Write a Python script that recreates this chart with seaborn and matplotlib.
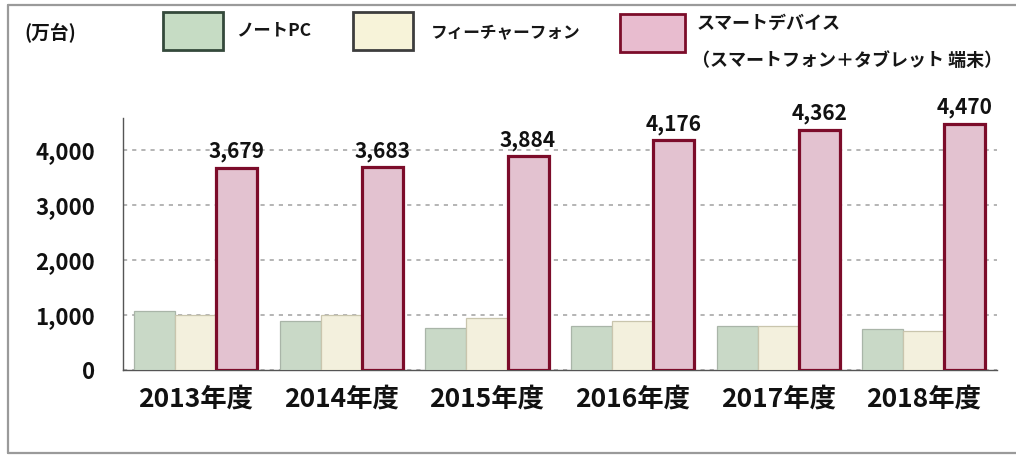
import matplotlib
matplotlib.use("Agg")
import matplotlib.pyplot as plt
from matplotlib.patches import Rectangle
from matplotlib.lines import Line2D
from matplotlib.ticker import FixedLocator, FuncFormatter
import pandas as pd
import seaborn as sns

# Shipments by fiscal year (unit: 10,000 units)
years = ["2013年度", "2014年度", "2015年度", "2016年度", "2017年度", "2018年度"]
series_names = ["ノートPC", "フィーチャーフォン", "スマートデバイス"]
notebook_pc = [1078, 891, 760, 800, 790, 748]
feature_phone = [1000, 1000, 940, 890, 790, 712]
smart_device = [3679, 3683, 3884, 4176, 4362, 4470]
y_ticks = [0, 1000, 2000, 3000, 4000]

fills = ["#c6dcc4", "#f7f3d9", "#e8bccf"]
bar_edges = ["#a9b5a8", "#c9c5ad", "#7c0c2a"]
legend_edges = ["#34493b", "#3d3d3d", "#7c0c2a"]

sns.set_style("white")
plt.rcParams["font.family"] = ["Noto Sans CJK JP", "DejaVu Sans"]

df = pd.DataFrame({
    "year": years * 3,
    "series": [series_names[0]] * 6 + [series_names[1]] * 6 + [series_names[2]] * 6,
    "value": notebook_pc + feature_phone + smart_device,
})

fig = plt.figure(figsize=(10.16, 4.59), dpi=100)
ax = fig.add_axes([0.121, 0.194, 0.860, 0.549])

sns.barplot(data=df, x="year", y="value", hue="series", hue_order=series_names,
            palette=fills, width=0.845, gap=0, legend=False, ax=ax, zorder=3)

for cont, ec, lw in zip(ax.containers, bar_edges, [0.9, 0.9, 2.3]):
    for patch in cont:
        patch.set_edgecolor(ec)
        patch.set_linewidth(lw)

# value labels above smart-device bars
for patch, val in zip(ax.containers[2], smart_device):
    ax.annotate(f"{val:,}", (patch.get_x() + patch.get_width() / 2, val),
                xytext=(0, 4), textcoords="offset points", ha="center", va="bottom",
                fontsize=15, fontweight="bold", color="#111111")

ax.set_ylim(0, 4580)
ax.set_xlim(-0.5, 5.5)
ax.yaxis.set_major_locator(FixedLocator(y_ticks))
ax.yaxis.set_major_formatter(FuncFormatter(lambda v, p: f"{int(v):,}"))
ax.grid(axis="y", color="#a8a8a8", linestyle=(0, (2.5, 3)), linewidth=1.2, zorder=0)
ax.grid(axis="x", visible=False)
ax.set_axisbelow(True)

ax.set_xlabel("")
ax.set_ylabel("")
for side in ["top", "right"]:
    ax.spines[side].set_visible(False)
for side in ["left", "bottom"]:
    ax.spines[side].set_color("#555555")
    ax.spines[side].set_linewidth(1.0)

ax.tick_params(axis="y", length=4, width=0.8, color="#555555", pad=16,
               labelsize=16, labelcolor="#111111")
for lbl in ax.get_yticklabels():
    lbl.set_fontweight("bold")

ax.xaxis.set_minor_locator(FixedLocator([i + 0.5 for i in range(6)]))
ax.tick_params(axis="x", which="major", length=0, pad=11, labelsize=19, labelcolor="#111111")
ax.tick_params(axis="x", which="minor", length=6, width=0.8, color="#777777", direction="out")
for lbl in ax.get_xticklabels():
    lbl.set_fontweight("bold")

W, H = 1016.0, 459.0

def fx(px):
    return px / W

def fy(py):
    return 1 - py / H

# outer frame: top, left and bottom edges
frame_style = dict(transform=fig.transFigure, color="#9a9a9a", linewidth=1.6)
fig.add_artist(Line2D([fx(8), 1.0], [fy(5), fy(5)], **frame_style))
fig.add_artist(Line2D([fx(8), fx(8)], [fy(5), fy(453)], **frame_style))
fig.add_artist(Line2D([fx(8), 1.0], [fy(453), fy(453)], **frame_style))

fig.text(fx(24), fy(33), "(万台)", fontsize=13.5, fontweight="bold", va="center", ha="left",
         color="#111111")

legend_boxes = [(163, 12, 60, 38), (353, 12, 60, 38), (620, 14, 65, 38)]
for (x0, y0, w, h), fc, ec in zip(legend_boxes, fills, legend_edges):
    fig.add_artist(Rectangle((fx(x0), fy(y0 + h)), w / W, h / H, transform=fig.transFigure,
                             facecolor=fc, edgecolor=ec, linewidth=2.0))

legend_font = dict(fontsize=12.5, fontweight="bold", va="center", ha="left", color="#161616")
fig.text(fx(236), fy(30), series_names[0], **legend_font)
fig.text(fx(431), fy(33), series_names[1], **{**legend_font, "fontsize": 12})
fig.text(fx(697), fy(23), series_names[2], **{**legend_font, "fontsize": 13})
fig.text(fx(692), fy(60), "（スマートフォン＋タブレット 端末）", **{**legend_font, "fontsize": 13})

fig.savefig("out.png", dpi=100)
